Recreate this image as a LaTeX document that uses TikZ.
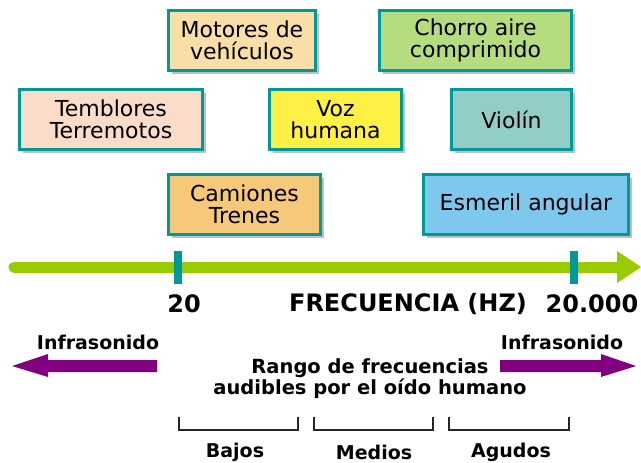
\documentclass[tikz,border=0pt]{standalone}
\usepackage{fontspec}
\setmainfont{DejaVu Sans}
\usetikzlibrary{shadows}
\definecolor{bordc}{RGB}{0,153,153}
\definecolor{axisg}{RGB}{153,204,0}
\definecolor{purp}{RGB}{128,0,128}
\definecolor{cmot}{RGB}{250,222,168}
\definecolor{cchor}{RGB}{181,221,127}
\definecolor{ctem}{RGB}{251,220,200}
\definecolor{cvoz}{RGB}{255,240,70}
\definecolor{cvio}{RGB}{146,206,198}
\definecolor{ccam}{RGB}{245,200,122}
\definecolor{cesm}{RGB}{126,200,238}
\tikzset{
  srcbox/.style={draw=bordc, line width=3pt, inner sep=0pt, align=center,
    minimum height=60pt, font=\fontsize{22}{22}\selectfont,
    drop shadow={shadow xshift=3pt, shadow yshift=-3pt, fill=black!25, opacity=1}},
  blabel/.style={font=\bfseries\fontsize{19}{19}\selectfont, align=center, inner sep=0pt},
  axlabel/.style={font=\bfseries\fontsize{24}{24}\selectfont, inner sep=0pt},
  brack/.style={line width=2pt, draw=black!85},
}
\begin{document}
\begin{tikzpicture}[x=1pt,y=-1pt]
\useasboundingbox (0,0) rectangle (641,463);
% source boxes
\node[srcbox, fill=cmot, minimum width=147pt] (mot) at (242,40.5) {Motores de\\vehículos};
\node[srcbox, fill=cchor, minimum width=192pt] (chor) at (475.5,40.5) {Chorro aire\\comprimido};
\node[srcbox, fill=ctem, minimum width=183pt] (tem) at (111,119.5) {Temblores\\Terremotos};
\node[srcbox, fill=cvoz, minimum width=132pt] (voz) at (335.5,119.5) {Voz\\humana};
\node[srcbox, fill=cvio, minimum width=120pt] (vio) at (511.5,119.5) {Violín};
\node[srcbox, fill=ccam, minimum width=152pt] (cam) at (244.5,204.5) {Camiones\\Trenes};
\node[srcbox, fill=cesm, minimum width=205pt] (esm) at (526,204.5) {Esmeril angular};
% frequency axis
\coordinate (axL) at (14,267);
\coordinate (axE) at (618,267);
\coordinate (axT) at (641,267);
\draw[axisg, line width=11pt, line cap=round] (axL) -- (axE);
\fill[axisg] (617,251) -- (axT) -- (617,283) -- cycle;
\fill[bordc] (174,251) rectangle (182,284);
\fill[bordc] (570,251) rectangle (578,284);
\node[axlabel] (f20) at (184,304) {20};
\node[axlabel] (fhz) at (408,304) {FRECUENCIA (HZ)};
\node[axlabel] (f20k) at (592,304) {20.000};
% infrasound arrows
\fill[purp] (157,360) -- (48,360) -- (48,354) -- (12,366) -- (48,377) -- (48,372) -- (157,372) -- cycle;
\fill[purp] (500,360) -- (601,360) -- (601,354) -- (636,366) -- (601,377) -- (601,372) -- (500,372) -- cycle;
\node[blabel] (infL) at (98,342) {Infrasonido};
\node[blabel] (infR) at (562,342) {Infrasonido};
\node[blabel, font=\bfseries\fontsize{19.5}{19}\selectfont] (rango) at (370,379) {Rango de frecuencias\\audibles por el oído humano};
% brackets
\draw[brack] (179,417) -- (179,430) -- (298,430) -- (298,417);
\draw[brack] (314,417) -- (314,430) -- (433,430) -- (433,417);
\draw[brack] (449,417) -- (449,430) -- (569,430) -- (569,417);
\node[blabel] (bajos) at (235,452) {Bajos};
\node[blabel] (medios) at (374,452) {Medios};
\node[blabel] (agudos) at (511,452) {Agudos};
\end{tikzpicture}
\end{document}
